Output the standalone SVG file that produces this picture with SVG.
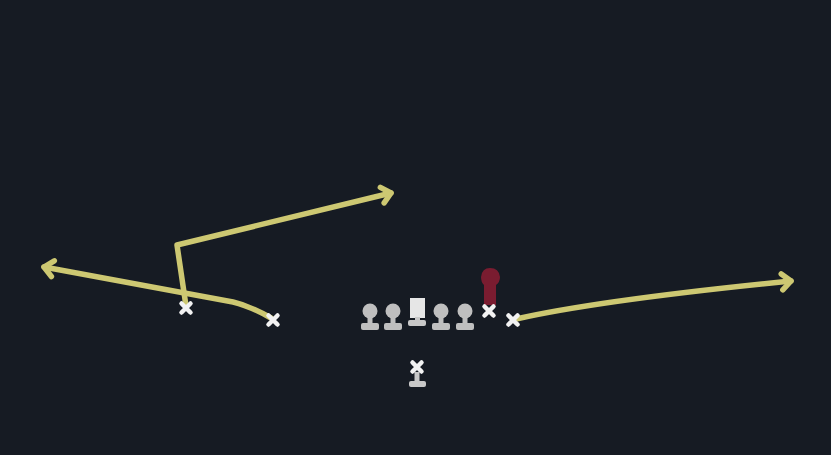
<svg xmlns="http://www.w3.org/2000/svg" width="831" height="455" viewBox="0 0 831 455">
<defs>
<style>
.route{fill:none;stroke:#cdc872;stroke-width:5.5;stroke-linecap:round;stroke-linejoin:round}
.x{stroke:#f2f2f2;stroke-width:4.5;stroke-linecap:round}
.ol{fill:#bfbfbf}
</style>
<marker id="arr" markerUnits="userSpaceOnUse" markerWidth="30" markerHeight="30" refX="15" refY="15" orient="auto" viewBox="0 0 30 30">
<path d="M6,7 L15,15 L6,23" fill="none" stroke="#cdc872" stroke-width="5.5" stroke-linecap="round" stroke-linejoin="round"/>
</marker>
<g id="lineman">
<circle cx="0" cy="0" r="7.5" class="ol"/>
<rect x="-2.5" y="5" width="5" height="8" class="ol"/>
<rect x="-9" y="12" width="18" height="7" rx="2" class="ol"/>
</g>
</defs>
<rect width="831" height="455" fill="#161b23"/>
<g id="connectors">
<path class="route" d="M186,306 L177,245 L391,193" marker-end="url(#arr)"/>
<path class="route" d="M271,318 Q250,306 233,302 L44,267" marker-end="url(#arr)"/>
<path class="route" d="M516,319 Q600,300 791,281" marker-end="url(#arr)"/>
</g>
<g id="lt"><use href="#lineman" x="370" y="311"/></g>
<g id="lg"><use href="#lineman" x="393" y="311"/></g>
<g id="c">
<rect x="410" y="298" width="15" height="20" fill="#e6e6e6"/>
<rect x="415" y="317" width="5" height="4" fill="#c8c8c8"/>
<rect x="408" y="320" width="18" height="6" rx="2" fill="#c8c8c8"/>
</g>
<g id="rg"><use href="#lineman" x="441" y="311"/></g>
<g id="rt"><use href="#lineman" x="465" y="311"/></g>
<g id="te">
<path d="M484,305 L484,285 Q481,282 481,277 Q482,268 490,268 Q499,268 500,277 Q500,282 496,285 L496,305 Z" fill="#7a1c30"/>
<path class="x" d="M484.5,306.5 L493.5,315.5 M493.5,306.5 L484.5,315.5"/>
</g>
<g id="wr-right"><path class="x" d="M508.5,315.5 L517.5,324.5 M517.5,315.5 L508.5,324.5"/></g>
<g id="wr-left"><path class="x" d="M181.5,303.5 L190.5,312.5 M190.5,303.5 L181.5,312.5"/></g>
<g id="slot"><path class="x" d="M268.5,315.5 L277.5,324.5 M277.5,315.5 L268.5,324.5"/></g>
<g id="qb">
<path class="x" d="M412.5,362.5 L421.5,371.5 M421.5,362.5 L412.5,371.5"/>
<rect x="414.5" y="372" width="5" height="10" fill="#c8c8c8"/>
<rect x="409" y="381" width="17" height="6" rx="2" fill="#c8c8c8"/>
</g>
</svg>
